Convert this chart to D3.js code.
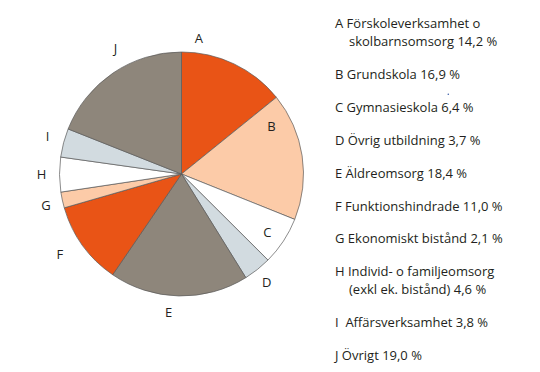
<!DOCTYPE html>
<html><head><meta charset="utf-8">
<script src="https://cdn.jsdelivr.net/npm/d3@7"></script>
<style>
html,body{margin:0;padding:0;background:#fff;}
text{font-family:"Open Sans",sans-serif;fill:#231f20;}
</style></head>
<body>
<svg id="c" width="540" height="372"></svg>
<script>
const letters = ["A","B","C","D","E","F","G","H","I","J"];
const names = [
  ["Förskoleverksamhet o","skolbarnsomsorg"],
  ["Grundskola"],
  ["Gymnasieskola"],
  ["Övrig utbildning"],
  ["Äldreomsorg"],
  ["Funktionshindrade"],
  ["Ekonomiskt bistånd"],
  ["Individ- o familjeomsorg","(exkl ek. bistånd)"],
  [" Affärsverksamhet"],
  ["Övrigt"]
];
const values = [14.2,16.9,6.4,3.7,18.4,11.0,2.1,4.6,3.8,19.0];

const colors = ["#e95416","#fccba8","#ffffff","#d2dbe0","#8e867b","#e95416","#fccba8","#ffffff","#d2dbe0","#8e867b"];
// label placement: angle (deg clockwise from top), distance from centre
const labelSpots = [[7.3,137],[62,102],[124.4,104],[141.9,138],[185.3,139],[236.5,146],[257.1,139],[270,140],[285.6,139],[332.3,142]];

const svg = d3.select("#c");
const cx = 181.5, cy = 174, R = 122;
const data = letters.map((l,i)=>({letter:l, name:names[i], value:values[i]}));
const pie = d3.pie().value(d=>d.value).sort(null);
const arc = d3.arc().innerRadius(0).outerRadius(R);
const g = svg.append("g").attr("transform",`translate(${cx},${cy})`);
g.selectAll("path").data(pie(data)).join("path")
  .attr("d",arc)
  .attr("fill",(d,i)=>colors[i])
  .attr("stroke","#5a5a5a")
  .attr("stroke-width",0.7)
  .attr("stroke-linejoin","round");

g.selectAll("text.lab").data(pie(data)).join("text")
  .attr("class","lab")
  .attr("x",(d,i)=>Math.sin(labelSpots[i][0]*Math.PI/180)*labelSpots[i][1])
  .attr("y",(d,i)=>-Math.cos(labelSpots[i][0]*Math.PI/180)*labelSpots[i][1])
  .attr("dy","0.35em")
  .attr("text-anchor","middle")
  .attr("font-size",13)
  .text(d=>d.data.letter);

const fmt = v => d3.format(".1f")(v).replace(".",",");
const lx = 335, ly0 = 28.3, step = 32.9, lineH = 17.7, indent = 14;
const lg = svg.append("g");
let y = ly0;
data.forEach((d,i)=>{
  const t = lg.append("text")
    .attr("x",lx).attr("y",y)
    .attr("font-size",13)
    .style("white-space","pre");
  d.name.forEach((ln,j)=>{
    const last = j===d.name.length-1;
    const s = (j===0? d.letter+" ":"") + ln + (last? " "+fmt(d.value)+" %":"");
    t.append("tspan")
      .attr("x", j===0? lx : lx+indent)
      .attr("dy", j===0? 0 : lineH)
      .text(s);
  });
  y += step + (d.name.length-1)*lineH;
});
svg.append("circle").attr("cx",448.3).attr("cy",94.3).attr("r",0.8).attr("fill","#3b5fa8");
</script>
</body></html>
